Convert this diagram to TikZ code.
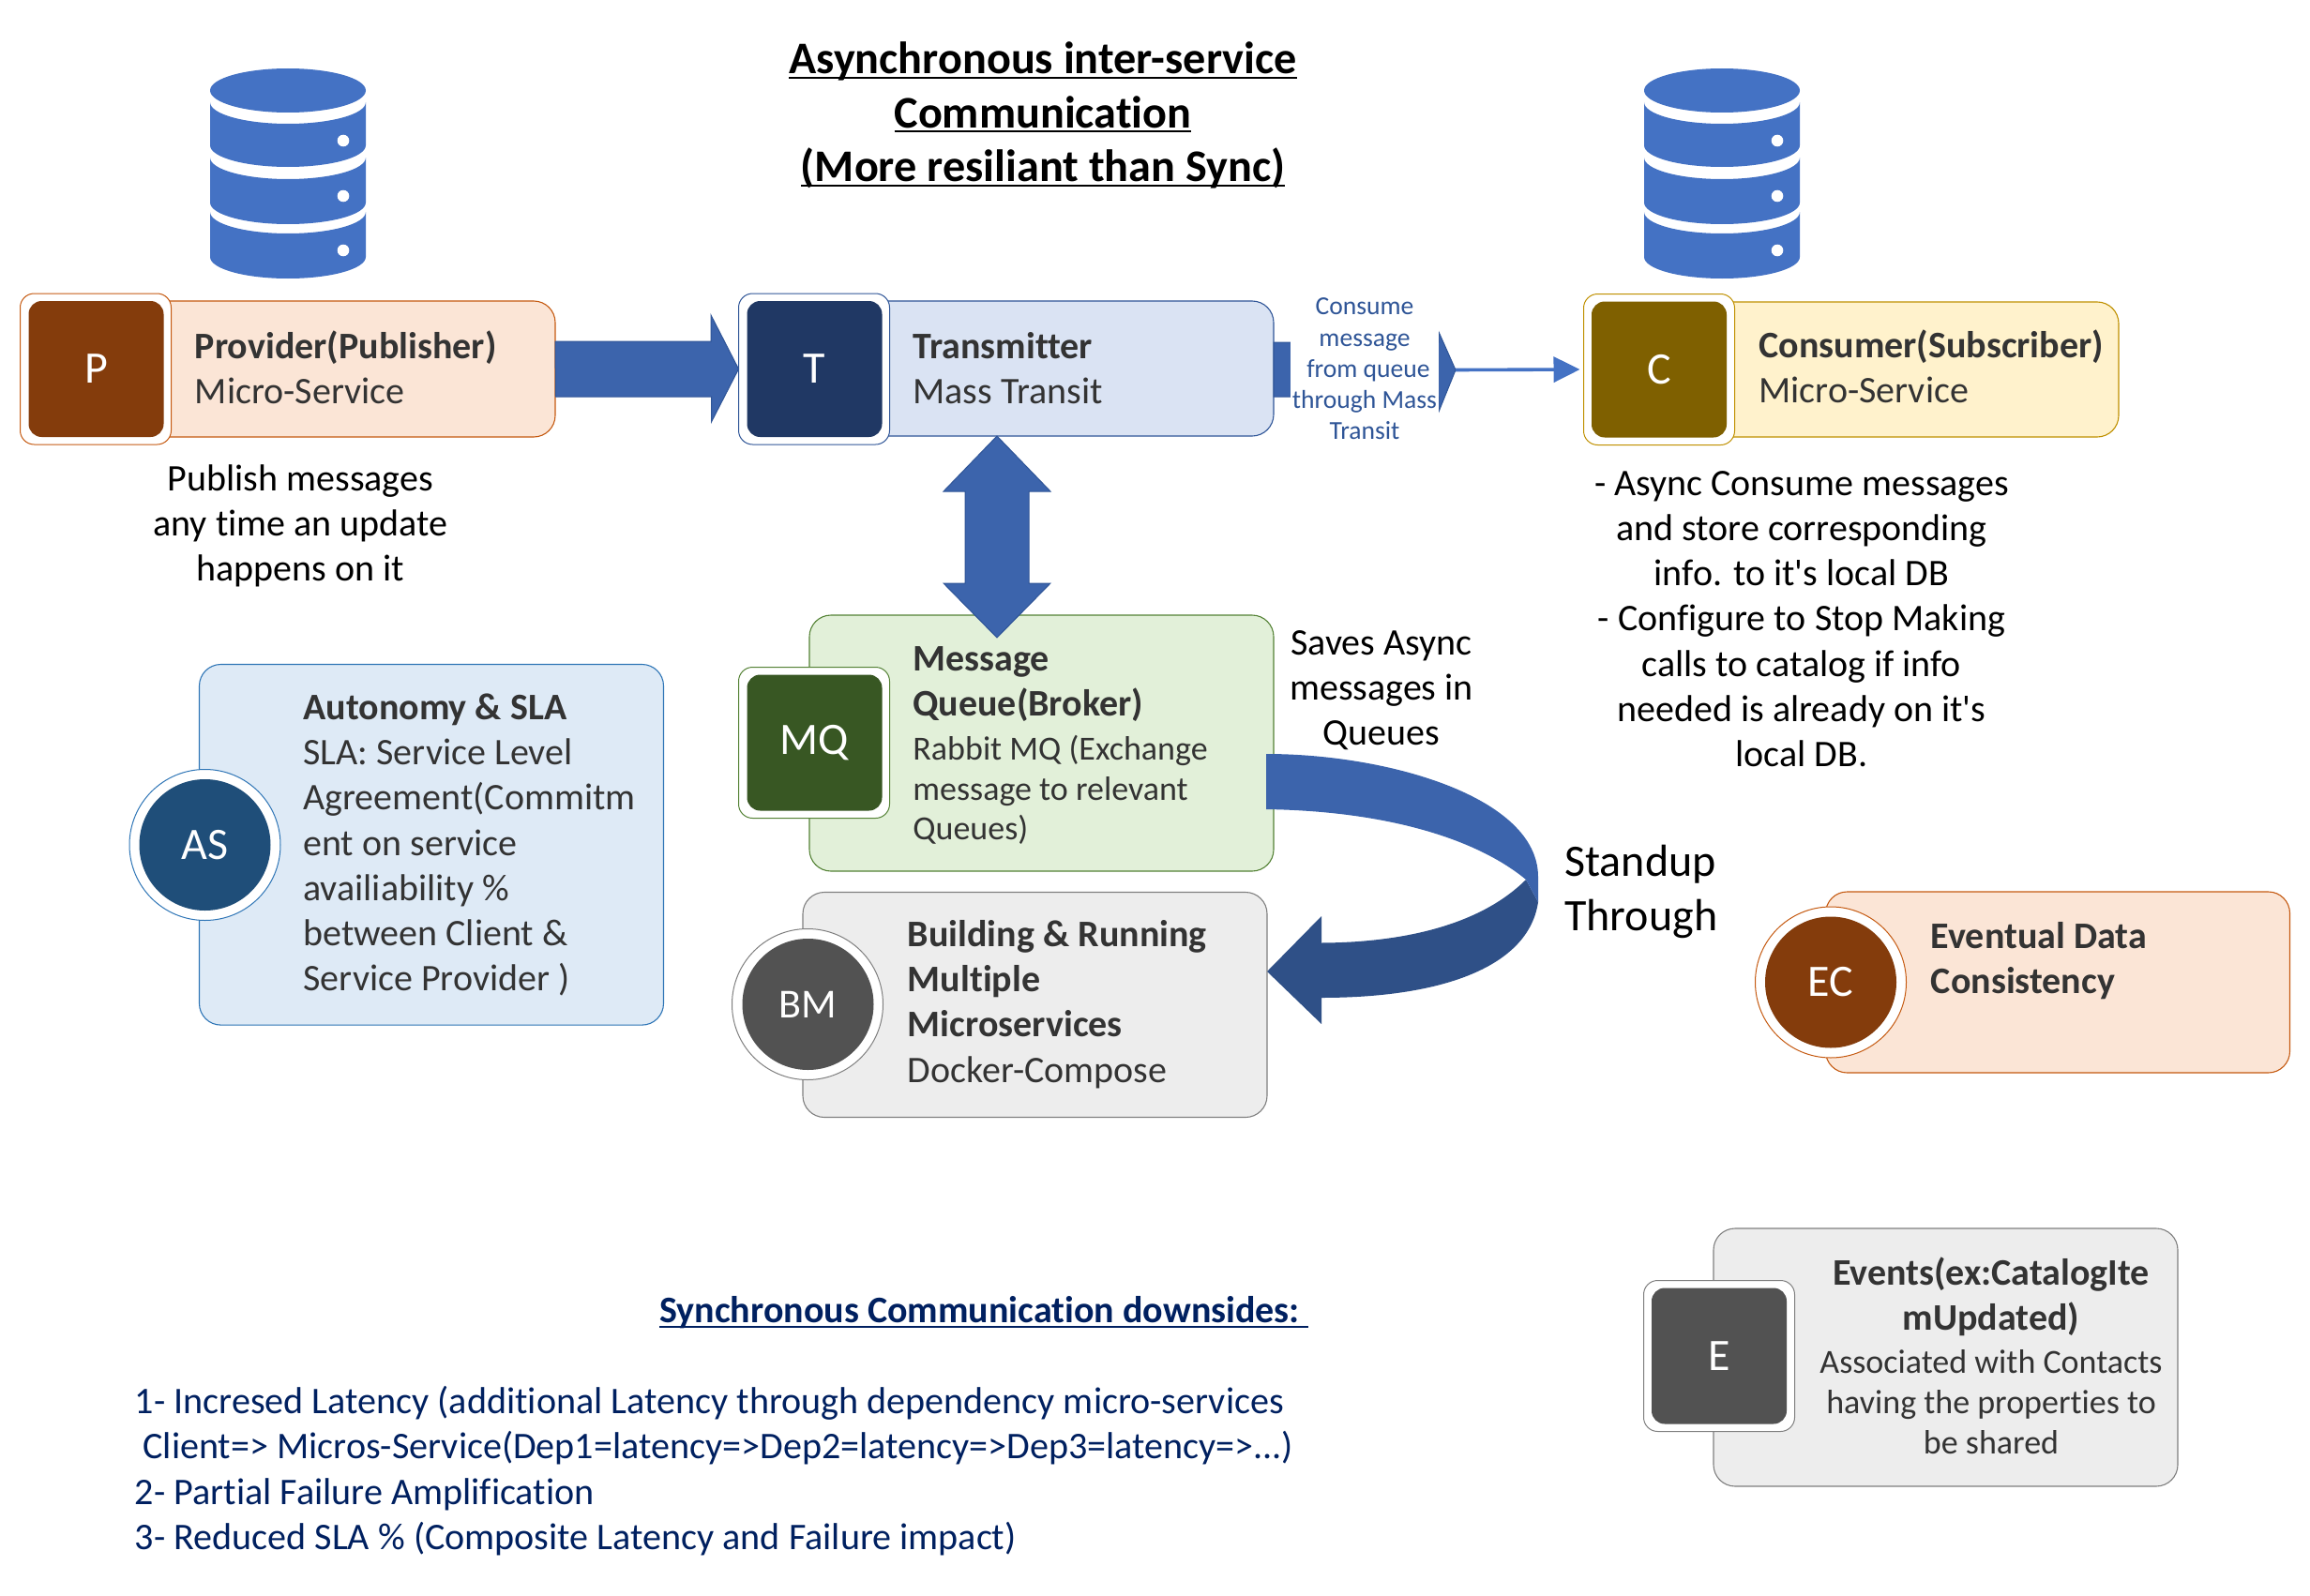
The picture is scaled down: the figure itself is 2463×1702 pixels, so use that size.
\documentclass[tikz,border=0pt]{standalone}
\usepackage{fontspec}
\setmainfont{Carlito}[Ligatures={TeXOff,NoCommon}]
\usetikzlibrary{arrows.meta}
\newcommand{\ulbar}[1]{\setbox0\hbox{#1}\rlap{\rule[-2.6pt]{\wd0}{1.1pt}}\box0}
\newcommand{\headtxt}{\fontsize{20}{24.1}\selectfont\bfseries}
\newcommand{\bodytxt}{\fontsize{20}{24.1}\selectfont\mdseries}
\newcommand{\smalltxt}{\fontsize{18}{24.1}\selectfont\mdseries}
\newcommand{\bigtxt}{\fontsize{24}{28.8}\selectfont}
\definecolor{dbblue}{HTML}{4472C4}
\definecolor{arrowblue}{HTML}{3C64AC}
\definecolor{arrowline}{HTML}{2F5597}
\definecolor{arrowdark}{HTML}{2F5087}
\definecolor{inktxt}{HTML}{333333}
\definecolor{navytxt}{HTML}{002060}
\definecolor{orangefill}{HTML}{FBE5D6}
\definecolor{orangeline}{HTML}{C55A11}
\definecolor{orangetile}{HTML}{843C0C}
\definecolor{bluefill}{HTML}{DAE3F3}
\definecolor{blueline}{HTML}{2F5597}
\definecolor{bluetile}{HTML}{203864}
\definecolor{yellowfill}{HTML}{FFF2CC}
\definecolor{yellowline}{HTML}{BF9000}
\definecolor{yellowtile}{HTML}{7F6000}
\definecolor{greenfill}{HTML}{E2F0D9}
\definecolor{greenline}{HTML}{548235}
\definecolor{greentile}{HTML}{385723}
\definecolor{greyfill}{HTML}{EDEDED}
\definecolor{greyline}{HTML}{7F7F7F}
\definecolor{greytile}{HTML}{525252}
\definecolor{skyfill}{HTML}{DEEAF6}
\definecolor{skyline}{HTML}{2E75B6}
\definecolor{skytile}{HTML}{1F4E79}
\tikzset{
card/.style 2 args={draw=#2,fill=#1,line width=0.55pt,rounded corners=11.5pt,anchor=north west,inner sep=0pt,outer sep=0pt},
tileback/.style={draw=#1,fill=white,line width=0.5pt,rounded corners=7.5pt,minimum width=80.5pt,minimum height=80.5pt,inner sep=0pt,outer sep=0pt},
tile/.style={fill=#1,rounded corners=7pt,minimum width=72pt,minimum height=72.5pt,inner sep=0pt,text=white,font=\bigtxt},
roundback/.style={draw=#1,fill=white,line width=0.5pt,circle,minimum size=80.5pt,inner sep=0pt,outer sep=0pt},
roundtile/.style={fill=#1,circle,minimum size=70pt,inner sep=0pt,text=white,font=\bigtxt},
cardtext/.style={anchor=west,align=left,inner sep=0pt,text=inktxt,font=\bodytxt},
notetext/.style={align=center,inner sep=0pt,text=black,font=\bodytxt},
blockarrow/.style={fill=arrowblue,draw=arrowline,line width=0.5pt},
thinarrow/.style={draw=dbblue,line width=1.8pt,-{Triangle[length=14pt,width=13.5pt]},shorten >=2pt},
}
\begin{document}
\begin{tikzpicture}[x=0.5pt,y=-0.5pt]
\useasboundingbox (0,0) rectangle (2463,1702);
\foreach \dbx in {307,1836}{
\fill[dbblue](\dbx,96.5) ellipse [x radius=83,y radius=23.5];
\foreach \dby/\dbh in {109/46,168/48,226/48}{
\fill[dbblue](\dbx-83,\dby)--++(0,\dbh) arc[start angle=180,end angle=0,x radius=83,y radius=23]--++(0,-\dbh) arc[start angle=0,end angle=180,x radius=83,y radius=23];
\fill[white](\dbx+59,\dby+41) circle [radius=6.3];
}}
\node[anchor=center,align=center,inner sep=0pt,font=\fontsize{24.1}{28.8}\selectfont\bfseries] (title) at (1112,123) {\ulbar{Asynchronous inter-service}\\\ulbar{Communication}\\\ulbar{(More resiliant than Sync)}};
\node[card={orangefill}{orangeline},minimum width=246pt,minimum height=72.5pt] (provider) at (100,321) {};
\node[tileback=orangeline] (providerback) at (102,393.5) {};
\node[tile=orangetile] (providertile) at (102.5,393.5) {P};
\node[cardtext] (providertxt) at (207.5,392) {\headtxt Provider(Publisher)\\\bodytxt Micro-Service};
\node[card={bluefill}{blueline},minimum width=245pt,minimum height=72pt] (transmit) at (868,321) {};
\node[tileback=blueline] (transmitback) at (868,393.5) {};
\node[tile=bluetile] (transmittile) at (868.5,393.5) {T};
\node[cardtext] (transmittxt) at (973,392.5) {\headtxt Transmitter\\\bodytxt Mass Transit};
\node[card={yellowfill}{yellowline},minimum width=245pt,minimum height=72pt] (consumer) at (1769,322) {};
\node[tileback=yellowline] (consumerback) at (1769,394) {};
\node[tile=yellowtile] (consumertile) at (1769,394) {C};
\node[cardtext] (consumertxt) at (1875,391) {\headtxt Consumer(Subscriber)\\\bodytxt Micro-Service};
\node[card={greenfill}{greenline},minimum width=247.5pt,minimum height=136.5pt] (queue) at (863,656) {};
\node[tileback=greenline] (queueback) at (868,792) {};
\node[tile=greentile] (queuetile) at (868.5,792) {MQ};
\node[cardtext] (queuetxt) at (973,795) {\headtxt Message\\\headtxt Queue(Broker)\\[-0.5pt]\smalltxt Rabbit MQ (Exchange\\[-2.85pt]\smalltxt message to relevant\\[-2.85pt]\smalltxt Queues)};
\node[card={greyfill}{greyline},minimum width=247.5pt,minimum height=120pt] (building) at (856,951.5) {};
\node[roundback=greyline] (buildingback) at (861,1071) {};
\node[roundtile=greytile,font=\fontsize{22}{26}\selectfont] (buildingtile) at (861.5,1071) {BM};
\node[cardtext] (buildingtxt) at (967.5,1071) {\headtxt Building \& Running\\\headtxt Multiple\\\headtxt Microservices\\\bodytxt Docker-Compose};
\node[card={skyfill}{skyline},minimum width=247.5pt,minimum height=192.3pt] (autonomy) at (212.5,708.5) {};
\node[roundback=skyline] (autonomyback) at (218.5,901) {};
\node[roundtile=skytile] (autonomytile) at (218.5,901) {AS};
\node[cardtext] (autonomytxt) at (323,901) {\headtxt Autonomy \& SLA\\\bodytxt SLA: Service Level\\Agreement(Commitm\\ent on service\\availiability \%\\between Client \&\\Service Provider )};
\node[card={orangefill}{orangeline},minimum width=247.5pt,minimum height=96.5pt] (eventual) at (1946.5,951) {};
\node[roundback=orangeline] (eventualback) at (1952,1047.5) {};
\node[roundtile=orangetile] (eventualtile) at (1952,1047.5) {EC};
\node[cardtext] (eventualtxt) at (2058.5,1025) {\headtxt Eventual Data\\\headtxt Consistency};
\node[card={greyfill}{greyline},minimum width=247.5pt,minimum height=137.5pt] (events) at (1827,1310) {};
\node[tileback=greyline] (eventsback) at (1833,1446) {};
\node[tile=greytile] (eventstile) at (1833,1446) {E};
\node[cardtext,anchor=center,align=center] (eventstxt) at (2123,1446) {\headtxt Events(ex:CatalogIte\\\headtxt mUpdated)\\[-1.3pt]\smalltxt Associated with Contacts\\[-2.5pt]\smalltxt having the properties to\\[-2.5pt]\smalltxt be shared};
\node[notetext] (publishtxt) at (320.5,561) {Publish messages\\any time an update\\happens on it};
\node[notetext] (consumenote) at (1921,660) {- Async Consume messages\\and store corresponding\\info. to it's local DB\\- Configure to Stop Making\\calls to catalog if info\\needed is already on it's\\local DB.};
\node[notetext] (savestxt) at (1473,736) {Saves Async\\messages in\\Queues};
\node[anchor=west,align=left,inner sep=0pt,font=\bigtxt] (standuptxt) at (1668,951) {Standup\\Through};
\draw[blockarrow](provider.east)++(0,-29.5)--++(166,0)--++(0,-28)--(transmitback.west)--++(-29,56.5)--++(0,-27)--++(-166,0)--cycle;
\coordinate (consumetip) at (1552,394.5);
\draw[blockarrow](transmit.east)++(0,-28)--++(176,0)--++(0,-11)--(consumetip)--++(-18,44.5)--++(0,-16)--++(-176,0)--cycle;
\node[fill=white,inner sep=0pt,minimum width=79pt,minimum height=83pt,align=center,text=arrowline,font=\fontsize{13.8}{16.65}\selectfont] (consumelbl) at (1455,393.5) {Consume\\message\\\hspace*{4pt}from queue\\through Mass\\Transit};
\draw[thinarrow](consumetip)--(consumerback.west);
\coordinate (bothtop) at (1063,465);
\coordinate (bothbot) at (1063,680);
\draw[blockarrow](bothtop)--++(57,59)--++(-23,0)--++(0,98)--++(23,0)--(bothbot)--++(-57,-58)--++(23,0)--++(0,-98)--++(-23,0)--cycle;
\coordinate (bendstart) at (1350,804);
\coordinate (bendend) at (1351,1036);
\fill[arrowdark](1627,938)..controls (1580,985) and (1500,1005)..(1409,1005.5)--(1409,977)--(bendend)--(1409,1092)--(1409,1064)..controls (1540,1064) and (1630,1030)..(1640,962)--cycle;
\fill[arrowblue](bendstart)..controls (1480,804) and (1640,850)..(1640,935)--(1640,962)--(1627,938)..controls (1575,895) and (1480,865)..(1350,863)--cycle;
\node[anchor=west,inner sep=0pt,text=navytxt,font=\bodytxt\bfseries] (syncheadtxt) at (703,1400) {\ulbar{Synchronous Communication downsides:\ }};
\node[anchor=west,align=left,inner sep=0pt,text=navytxt,font=\fontsize{20.05}{24.1}\selectfont] (synclisttxt) at (143.5,1568.5) {1- Incresed Latency (additional Latency through dependency micro-services\\\hspace*{4.3pt}Client=> Micros-Service(Dep1=latency=>Dep2=latency=>Dep3=latency=>...)\\2- Partial Failure Amplification\\3- Reduced SLA \% (Composite Latency and Failure impact)};
\end{tikzpicture}
\end{document}
